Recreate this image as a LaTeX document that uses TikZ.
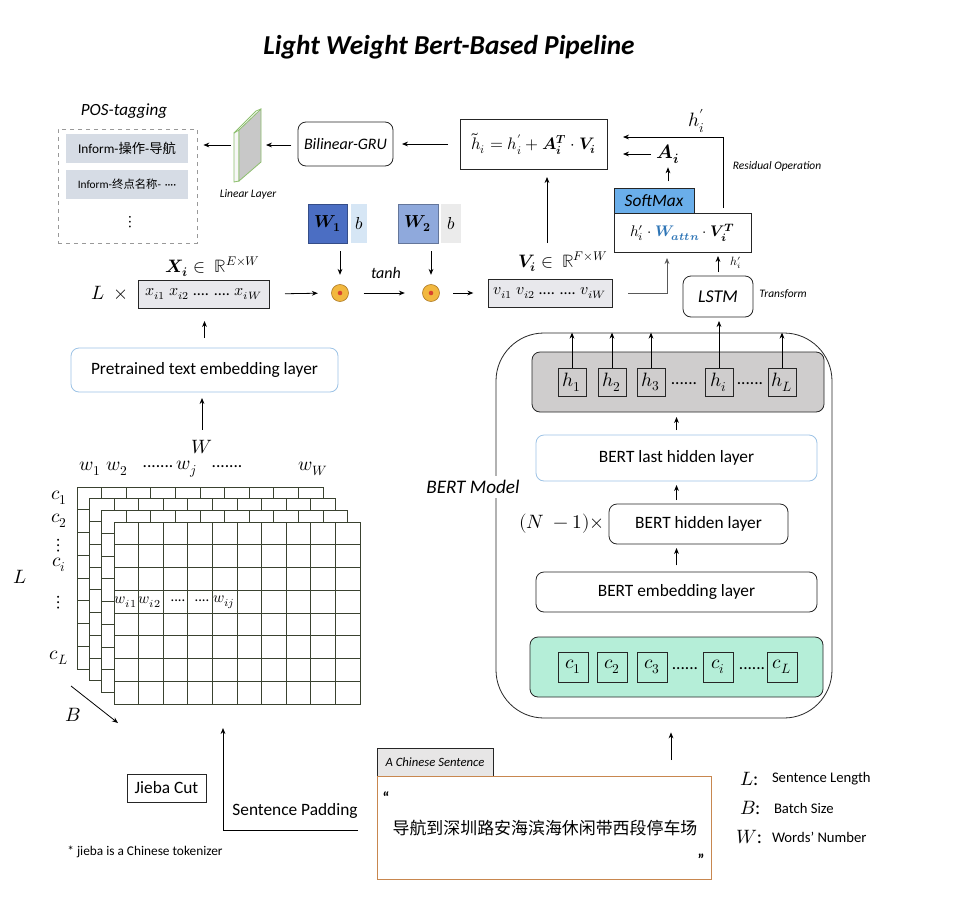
\documentclass[tikz,border=0pt]{standalone}
\usepackage{fontspec}
\usepackage{unicode-math}
\setmainfont{Carlito}
\setmathfont{Latin Modern Math}
\newfontfamily\cjk{Noto Sans CJK SC}
\usetikzlibrary{arrows.meta,calc}
\definecolor{posgray}{HTML}{D6DCE5}
\definecolor{slabgray}{HTML}{C8C8C8}
\definecolor{slabg}{HTML}{8DBF6E}
\definecolor{smblue}{HTML}{6AAEEA}
\definecolor{wblue}{HTML}{2E75B6}
\definecolor{w1blue}{HTML}{4B6EC3}
\definecolor{w2blue}{HTML}{8FA9DC}
\definecolor{b1blue}{HTML}{D6E6F5}
\definecolor{b2gray}{HTML}{EBEBEB}
\definecolor{circfill}{HTML}{F2B83F}
\definecolor{circborder}{HTML}{B07D2A}
\definecolor{circdot}{HTML}{D8432F}
\definecolor{boxgray}{HTML}{E8E8EC}
\definecolor{lblue}{HTML}{9DC3E6}
\definecolor{hgray}{HTML}{CFCDCD}
\definecolor{cgreen}{HTML}{B5EED8}
\definecolor{gridc}{HTML}{3A4230}
\definecolor{tabgray}{HTML}{E7E6E6}
\definecolor{cbrown}{HTML}{C8874F}
\tikzset{
  px/.style 2 args={minimum width={#1*0.75pt}, minimum height={#2*0.75pt}},
  bx/.style={draw=black!85, line width=0.6pt, inner sep=0pt, outer sep=0pt},
  rbx/.style={bx, rounded corners=6pt},
  lbl/.style={inner sep=0pt, outer sep=0pt},
  arr/.style={-{Stealth[length=4.5pt,width=3.6pt]}, line width=0.6pt},
  tmain/.style={font=\fontsize{13}{15}\selectfont},
  tmath/.style={font=\fontsize{13}{15}\selectfont},
  tbig/.style={font=\fontsize{14.5}{17}\selectfont},
  tsmall/.style={font=\fontsize{8.6}{10}\selectfont\itshape},
  dotc/.style={circle, draw=circborder, fill=circfill, line width=0.5pt, minimum size={17*0.75pt}, inner sep=0pt},
  gridline/.style={draw=gridc, line width=0.6pt},
}
\begin{document}
\begin{tikzpicture}[x=0.75pt,y=-0.75pt]
\useasboundingbox (0,0) rectangle (978,914);
\fill[white] (0,0) rectangle (978,914);

% title
\node[lbl, font=\fontsize{20.5}{24}\selectfont\bfseries\itshape] (title) at (449,47) {Light Weight Bert-Based Pipeline};

% POS tagging
\node[lbl, font=\fontsize{12.8}{15}\selectfont\itshape] (postitle) at (124,111) {POS-tagging};
\node[px={139}{114}, draw=gray!80, dashed, line width=0.6pt, inner sep=0pt] (posbox) at (127.5,186) {};
\node[lbl, px={122}{29}, fill=posgray, font=\fontsize{10}{12}\selectfont] (pos1) at (127,148.5) {Inform-{\cjk 操作}-{\cjk 导航}};
\node[lbl, px={122}{29}, fill=posgray, font=\fontsize{8.5}{10}\selectfont] (pos2) at (127,184.5) {Inform-{\cjk 终点名称}-\,\,····};
\node[lbl, tmath] (posdots) at (130,222) {$\vdots$};

% linear layer slab
\draw[draw=slabg, line width=0.6pt, fill=white!94!gray] (234,133) -- (239,130) -- (239,181) -- (234,182) -- cycle;
\draw[draw=slabg, line width=0.6pt, fill=slabgray] (239,130) -- (261,109) -- (261,162) -- (239,181) -- cycle;
\draw[draw=slabg, line width=0.6pt] (234,133) -- (256,111) -- (261,109);
\coordinate (slab) at (231,145);
\coordinate (slabr) at (264,145);
\node[lbl, tsmall] (linlbl) at (248,194) {Linear Layer};
\draw[arr, shorten >=4.5pt] (slab) -- (slab -| posbox.east);

% Bilinear GRU
\node[rbx, px={95}{44}, font=\fontsize{12}{14}\selectfont\itshape] (bgru) at (345.5,144) {Bilinear-GRU};
\draw[arr, shorten <=5pt, shorten >=1.5pt] (bgru.west |- slabr) -- (slabr);

% h tilde
\node[bx, px={147}{50}, font=\fontsize{12.5}{15}\selectfont] (ht) at (533.5,144) {$\widetilde{h}_i = h'_i + \symbfit{A}_{\symbfit{i}}^{\symbfit{T}} \cdot \symbfit{V}_{\symbfit{i}}$};
\draw[arr, shorten <=9pt, shorten >=6.75pt] (ht.west) -- (ht.west -| bgru.east);

% residual and A_i
\coordinate (resstart) at (723,208);
\coordinate (resend) at (623,137);
\draw[arr] (resstart) |- (resend);
\node[lbl, tbig] (hprime) at (697,121) {$h'_i$};
\node[lbl, tbig] (ai) at (668,154) {$\symbfit{A}_{\symbfit{i}}$};
\coordinate (aiend) at (623,154);
\draw[arr, shorten <=4pt] (ai.west) -- (aiend);
\node[lbl, tsmall] (reslbl) at (777,166) {Residual Operation};

% softmax + attention
\node[bx, px={80}{25}, fill=smblue, font=\fontsize{13}{15}\selectfont\itshape] (sm) at (654,200.5) {SoftMax};
\node[bx, px={137}{39}, font=\fontsize{11.5}{13}\selectfont] (attn) at (682.5,232.5) {$h'_i\cdot{\color{wblue}\symbfit{W}_{\symbfit{attn}}}\cdot\symbfit{V}_{\symbfit{i}}^{\symbfit{T}}$};
\draw[arr, shorten <=5pt, shorten >=3pt] (sm.north -| ai) -- (ai.south);

% LSTM
\node[rbx, px={70}{41}, font=\fontsize{13.5}{15}\selectfont\itshape] (lstm) at (718,296.5) {LSTM};
\draw[arr, shorten <=3pt, shorten >=3pt] (lstm.north) -- (lstm.north |- attn.south);
\node[lbl, font=\fontsize{9}{10}\selectfont] (hpsmall) at (736,263) {$h'_i$};
\node[lbl, tsmall] (translbl) at (783,294) {Transform};

% V
\node[lbl, font=\fontsize{13.5}{15}\selectfont] (vlbl) at (563,262) {$\symbfit{V}_{\symbfit{i}} \in\ \mathbb{R}^{F\times W}$};
\node[bx, px={124}{28}, fill=boxgray, font=\fontsize{12}{14}\selectfont] (vbox) at (550,293) {$v_{i1}\ v_{i2}$ .... .... $v_{iW}$};
\coordinate (vin) at (667,258);
\draw[arr, draw=black!65] ($(vbox.east)+(16,0)$) -| (vin);
\coordinate (vup) at (547,243);
\draw[arr, shorten >=6pt] (vup) -- (vup |- ht.south);

% weights and products
\node[dotc] (mul1) at (340,293) {};
\fill[circdot] (mul1) circle[radius=1.7pt];
\node[dotc] (mul2) at (431,293) {};
\fill[circdot] (mul2) circle[radius=1.7pt];
\node[bx, px={39}{39}, fill=w1blue, draw=w1blue!70!black, font=\fontsize{13}{15}\selectfont] (w1) at (327.5,223.5) {$\symbfit{W}_{\symbf{1}}$};
\node[lbl, px={16}{39}, fill=b1blue, font=\fontsize{13}{15}\selectfont] (b1) at (359,223.5) {$b$};
\node[bx, px={40}{39}, fill=w2blue, draw=w2blue!70!black, font=\fontsize{13}{15}\selectfont] (w2) at (418,223.5) {$\symbfit{W}_{\symbf{2}}$};
\node[lbl, px={20}{39}, fill=b2gray, font=\fontsize{13}{15}\selectfont] (b2) at (451,223.5) {$b$};
\draw[arr, shorten <=6pt, shorten >=7pt] (w1.south -| mul1) -- (mul1.north);
\draw[arr, shorten <=6pt, shorten >=7pt] (w2.south -| mul2) -- (mul2.north);
\node[lbl, font=\fontsize{12}{14}\selectfont\itshape] (tanh) at (386,273) {tanh};
\draw[arr, shorten <=11pt, shorten >=13pt] (mul1.east) -- (mul2.west);
\draw[arr, shorten <=10pt, shorten >=11pt] (mul2.east) -- (vbox.west);

% X
\node[lbl, font=\fontsize{13.5}{15}\selectfont] (xl) at (213,267) {$\symbfit{X}_{\symbfit{i}} \in\ \mathbb{R}^{E\times W}$};
\node[bx, px={131}{28}, fill=boxgray, font=\fontsize{12}{14}\selectfont] (xbox) at (203.5,294) {$x_{i1}\ x_{i2}$ .... .... $x_{iW}$};
\node[lbl, tbig] (lx) at (110,293) {$L\ \ \times$};
\draw[arr, shorten <=12pt, shorten >=10pt] (xbox.east) -- (mul1.west);

% pretrained
\node[rbx, draw=lblue, px={267}{44}, tmain] (pre) at (204.5,370) {Pretrained text embedding layer};
\draw[arr, shorten <=7.5pt, shorten >=9.75pt] (pre.north) -- (pre.north |- xbox.south);
\node[lbl, tbig] (wl) at (202,447) {$W$};
\draw[arr, shorten <=8pt, shorten >=4.5pt] (wl.north) -- (wl.north |- pre.south);

% grid
\foreach \k in {0,1,2,3} {
  \pgfmathsetmacro\gx{77+12.3*\k}
  \pgfmathsetmacro\gy{487+11.7*\k}
  \draw[gridline, fill=white] (\gx,\gy) rectangle ++(246,182);
  \foreach \i in {1,...,9} \draw[gridline] (\gx+24.6*\i,\gy) -- ++(0,182);
  \foreach \j in {1,...,7} \draw[gridline] (\gx,\gy+22.75*\j) -- ++(246,0);
}
\node[lbl, tbig] (cw1) at (90,469) {$w_1$};
\node[lbl, tbig] (cw2) at (117,469) {$w_2$};
\node[lbl, tmain] (cwd1) at (158,467) {.......};
\node[lbl, tbig] (cwj) at (187,469) {$w_j$};
\node[lbl, tmain] (cwd2) at (227,467) {.......};
\node[lbl, tbig] (cwW) at (313,469) {$w_W$};
\node[lbl, tbig] (rc1) at (59,498) {$c_1$};
\node[lbl, tbig] (rc2) at (59,521) {$c_2$};
\node[lbl, tbig] (rcd1) at (59,546) {$\vdots$};
\node[lbl, tbig] (rci) at (59,565) {$c_i$};
\node[lbl, tbig] (rcd2) at (59,603) {$\vdots$};
\node[lbl, tbig] (rcL) at (59,658) {$c_L$};
\node[lbl, tbig] (gL) at (20,577) {$L$};
\node[lbl, font=\fontsize{11.5}{13}\selectfont] (gi1) at (126,602) {$w_{i1}$};
\node[lbl, font=\fontsize{11.5}{13}\selectfont] (gi2) at (150,602) {$w_{i2}$};
\node[lbl, font=\fontsize{11}{13}\selectfont] (gid1) at (178,601) {....};
\node[lbl, font=\fontsize{11}{13}\selectfont] (gid2) at (202,601) {....};
\node[lbl, font=\fontsize{11.5}{13}\selectfont] (gij) at (224,602) {$w_{ij}$};
\coordinate (bs) at (71,686);
\coordinate (be) at (118,723);
\draw[arr] (bs) -- (be);
\node[lbl, tbig] (gB) at (73,715) {$B$};

% bottom left
\node[bx, px={79}{28}, tmain] (jieba) at (166.5,788) {Jieba Cut};
\node[lbl, font=\fontsize{10}{12}\selectfont] (fn) at (145,852) {* jieba is a Chinese tokenizer};
\node[lbl, tmain] (sp) at (295,811) {Sentence Padding};
\coordinate (padfrom) at (358,830);
\coordinate (padto) at (223,728);
\draw[arr] (padfrom) -| (padto);

% Chinese sentence
\node[bx, px={116}{28}, fill=tabgray, font=\fontsize{9.5}{11}\selectfont\itshape] (tab) at (435,762) {A Chinese Sentence};
\node[px={334}{103}, draw=cbrown, line width=0.7pt, inner sep=0pt] (cbox) at (544,827.5) {};
\node[lbl, font=\fontsize{12.7}{15}\selectfont\cjk] (ctext) at (545,828) {导航到深圳路安海滨海休闲带西段停车场};
\node[lbl, font=\fontsize{12}{14}\selectfont\bfseries] (oq) at (386,798) {“};
\node[lbl, font=\fontsize{12}{14}\selectfont\bfseries] (cq) at (701,860) {”};

% legend
\node[lbl, tbig, anchor=west] (lgL) at (740,779) {$L$:};
\node[lbl, font=\fontsize{11}{13}\selectfont, anchor=west] (lgLt) at (772,779) {Sentence Length};
\node[lbl, tbig, anchor=west] (lgB) at (740,808) {$B$:};
\node[lbl, font=\fontsize{11}{13}\selectfont, anchor=west] (lgBt) at (774,808) {Batch Size};
\node[lbl, tbig, anchor=west] (lgW) at (736,837) {$W$:};
\node[lbl, font=\fontsize{11}{13}\selectfont, anchor=west] (lgWt) at (772,837) {Words’ Number};

% BERT
\node[px={336}{385}, draw=black!85, rounded corners=36pt, line width=0.6pt, inner sep=0pt] (bert) at (664,525.5) {};
\node[lbl, fill=white, inner ysep=3pt, font=\fontsize{14.4}{17}\selectfont\itshape] (bertlbl) at (473,487) {BERT Model};
\coordinate (cup) at (671,760);
\draw[arr, shorten >=10.5pt] (cup) -- (cup |- bert.south);

\node[rbx, px={292}{60}, fill=hgray] (hbox) at (678,382) {};
\node[bx, px={28}{28}, tbig] (h1) at (572,382) {$h_1$};
\node[bx, px={28}{28}, tbig] (h2) at (612,382) {$h_2$};
\node[bx, px={28}{28}, tbig] (h3) at (651,382) {$h_3$};
\node[lbl, tmain] (hd1) at (684,384) {......};
\node[bx, px={28}{28}, tbig] (hi) at (719,382) {$h_i$};
\node[lbl, tmain] (hd2) at (750,384) {......};
\node[bx, px={28}{28}, tbig] (hL) at (782,382) {$h_L$};
\foreach \n in {h1,h2,h3,hL} \draw[arr] (\n.north) -- (\n.north |- bert.north);
\draw[arr, shorten >=3pt] (hi.north) -- (hi.north |- lstm.south);

\node[rbx, draw=lblue, px={281}{46}, tmain] (lasthid) at (676.5,458) {BERT last hidden layer};
\draw[arr, shorten <=3.75pt, shorten >=3.75pt] (lasthid.north) -- (lasthid.north |- hbox.south);
\node[rbx, px={179}{40}, tmain] (hid) at (698.5,524) {BERT hidden layer};
\node[lbl, tbig] (nm1) at (562,524) {$(N\ -1)\times$};
\draw[arr, shorten <=3pt, shorten >=3pt] (lasthid.south |- hid.north) -- (lasthid.south);
\node[rbx, px={281}{40}, tmain] (emb) at (676.5,592) {BERT embedding layer};
\draw[arr, shorten <=5pt, shorten >=3pt] (emb.north) -- (emb.north |- hid.south);

\node[rbx, px={293}{60}, fill=cgreen] (cg) at (676.5,667) {};
\node[bx, px={30}{30}, tbig] (cc1) at (573,667) {$c_1$};
\node[bx, px={30}{30}, tbig] (cc2) at (612,667) {$c_2$};
\node[bx, px={30}{30}, tbig] (cc3) at (652,667) {$c_3$};
\node[lbl, tmain] (cd1) at (685,669) {......};
\node[bx, px={30}{30}, tbig] (cci) at (718,667) {$c_i$};
\node[lbl, tmain] (cd2) at (752,669) {......};
\node[bx, px={30}{30}, tbig] (ccL) at (782,667) {$c_L$};
\end{tikzpicture}
\end{document}
